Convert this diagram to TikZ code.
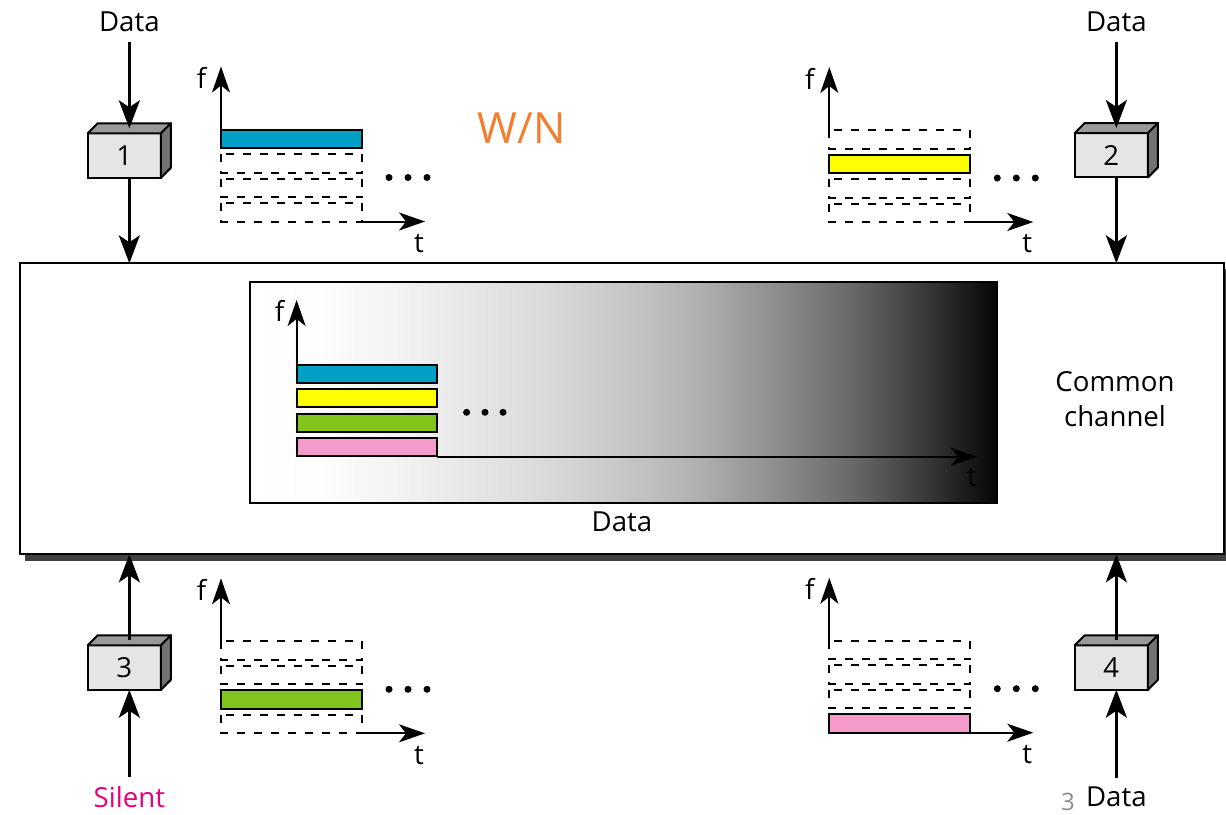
\documentclass[tikz,border=0pt]{standalone}
\usepackage{fontspec}
\setmainfont{Open Sans}
\usetikzlibrary{arrows.meta,calc}

\definecolor{slotblue}{RGB}{0,160,198}
\definecolor{slotyellow}{RGB}{255,255,0}
\definecolor{slotgreen}{RGB}{128,196,28}
\definecolor{slotpink}{RGB}{245,155,204}
\definecolor{wnorange}{RGB}{240,128,48}
\definecolor{silentpink}{RGB}{230,0,126}

% grey ramp of the shared channel: white on the left, black on the right
\pgfdeclarehorizontalshading{chgrad}{100bp}{color(0bp)=(white); color(25bp)=(white);
  color(30bp)=(black!1); color(35bp)=(black!5); color(40bp)=(black!10);
  color(45bp)=(black!15); color(50bp)=(black!22); color(55bp)=(black!31);
  color(60bp)=(black!44); color(65bp)=(black!58); color(70bp)=(black!77);
  color(75bp)=(black!98); color(100bp)=(black!98)}

% time-frequency chart: name, x0, y0 (origin), filled slot index, fill colour
\newcommand{\fchart}[5]{%
  \coordinate (#1-top) at (#2,#3-92);
  \coordinate (#1-right) at (#2+141,#3);
  \coordinate (#1-ftip) at (#2,#3-155);
  \coordinate (#1-ttip) at (#2+204,#3);
  \draw[axarr] (#1-top) -- (#1-ftip);
  \draw[axarr] (#1-right) -- (#1-ttip);
  \foreach \k in {0,...,3}{%
    \ifnum\k=#4\relax
      \draw[slotbar, fill=#5] (#2,#3-92+24.5*\k) rectangle ++(141,18.5);
    \else
      \draw[slotdash] (#2,#3-92+24.5*\k) rectangle ++(141,18.5);
    \fi
  }
  \node[lbl] (#1-f) at (#2-19.5,#3-143.5) {f};
  \node[lbl] (#1-t) at (#2+198,#3+22) {t};
  \foreach \d in {168,187,206} \fill (#2+\d,#3-44) circle (1.75pt);
}

% station box with a top and a side face: name, x, y, number
\newcommand{\unitbox}[4]{%
  \node[unit] (#1) at (#2,#3) {#4};
  \filldraw[topface] (#1.north west) -- ++(10,-10) -- ($(#1.north east)+(10,-10)$) -- (#1.north east) -- cycle;
  \filldraw[sideface] (#1.north east) -- ++(10,-10) -- ($(#1.south east)+(10,-10)$) -- (#1.south east) -- cycle;
  \coordinate (#1-topc) at ($(#1.north)+(5,-5)$);
  \coordinate (#1-botc) at ($(#1.south)+(5,0)$);
}

\begin{document}
\begin{tikzpicture}[x=0.5pt,y=-0.5pt,
  lbl/.style={font=\fontsize{13.8}{17.5}\selectfont, inner sep=0pt},
  unit/.style={draw, line width=1pt, fill=black!10, minimum width=36.6pt,
    minimum height=22.2pt, outer sep=0pt, inner sep=0pt,
    font=\fontsize{13.8}{17.5}\selectfont},
  topface/.style={fill=black!40, draw, line width=1pt, line join=round},
  sideface/.style={fill=black!55, draw, line width=1pt, line join=round},
  slotbar/.style={draw, line width=1pt},
  slotdash/.style={draw, line width=1pt, dash pattern=on 4pt off 4.5pt},
  axarr/.style={line width=1pt, -{Stealth[length=13pt,width=9pt,inset=3.5pt]}},
  bigarr/.style={line width=1.5pt, -{Stealth[length=14pt,width=10.5pt,inset=3.5pt]}}]

\useasboundingbox (0,0) rectangle (1226,814);
\fill[white] (0,0) rectangle (1226,814);

% shared channel with its shadow
\fill[black!75] (25,269) rectangle (1230,561);
\node[draw, line width=1pt, fill=white, minimum width=602.1pt, minimum height=145.5pt,
  inner sep=0pt, outer sep=0pt] (ch) at (622,408.8) {};
\node[lbl, align=center] (cc) at (1115,399) {Common\\channel};

% shaded band holding all four slots
\path[shading=chgrad, draw, line width=1pt] (249.9,281.7) rectangle (997.2,503.3);
\node[lbl] (cdata) at (622,522) {Data};
\coordinate (c-top) at (296.6,364.7);
\coordinate (c-ftip) at (296.6,300);
\coordinate (c-right) at (437,456.7);
\coordinate (c-ttip) at (977,456.7);
\draw[axarr] (c-top) -- (c-ftip);
\draw[axarr] (c-right) -- (c-ttip);
\foreach \k/\col in {0/slotblue,1/slotyellow,2/slotgreen,3/slotpink}
  \draw[slotbar, fill=\col] (296.6,364.7+24.5*\k) rectangle ++(140.4,18);
\node[lbl] (c-f) at (279.6,310.7) {f};
\node[lbl] (c-t) at (972,477.7) {t};
\foreach \d in {170,188.4,206.4} \fill (296.6+\d,412.3) circle (1.75pt);

% the four station charts
\fchart{q1}{221}{221.5}{0}{slotblue}
\fchart{q2}{829.3}{222}{1}{slotyellow}
\fchart{q3}{221}{733.3}{2}{slotgreen}
\fchart{q4}{829.3}{732.7}{3}{slotpink}

\node[lbl, text=wnorange, font=\fontsize{21.5}{26}\selectfont] (wn) at (522,128) {W/N};

% stations
\unitbox{b1}{124.35}{155.5}{1}
\unitbox{b2}{1111.35}{155.2}{2}
\unitbox{b3}{124.35}{667.5}{3}
\unitbox{b4}{1111.35}{667.5}{4}

\node[lbl] (d1) at (129.35,22) {Data};
\node[lbl] (d2) at (1116.35,22) {Data};
\node[lbl, text=silentpink] (s3) at (129.35,797) {Silent};
\node[lbl] (d4) at (1116.35,797) {Data};
\node[lbl, text=black!45, font=\fontsize{12}{14}\selectfont] (pg) at (1068,802) {3};

\draw[bigarr, shorten <=5pt] (d1) -- (b1-topc);
\draw[bigarr, shorten <=5pt] (d2) -- (b2-topc);
\draw[bigarr] (b1-botc) -- (b1-botc |- ch.north);
\draw[bigarr] (b2-botc) -- (b2-botc |- ch.north);
\draw[bigarr] (b3-topc) -- (b3-topc |- ch.south);
\draw[bigarr] (b4-topc) -- (b4-topc |- ch.south);
\draw[bigarr, shorten <=4.5pt] (s3) -- (b3-botc);
\draw[bigarr, shorten <=4.5pt] (d4) -- (b4-botc);
\end{tikzpicture}
\end{document}
